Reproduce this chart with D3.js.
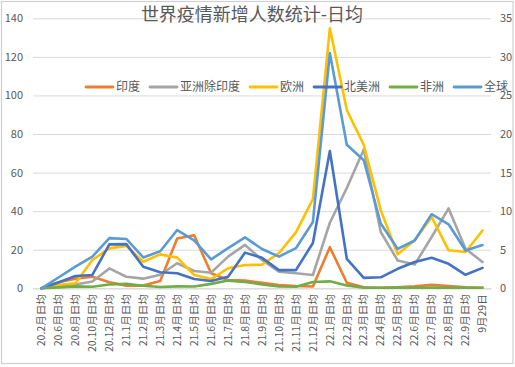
<!DOCTYPE html>
<html>
<head>
<meta charset="utf-8">
<script src="https://cdn.jsdelivr.net/npm/d3@7/dist/d3.min.js"></script>
<style>
  html, body { margin: 0; padding: 0; background: #fff; }
  svg { display: block; font-family: "Noto Sans CJK SC", "Noto Sans", sans-serif; }
</style>
</head>
<body>
<div id="chart"></div>
<script>
// 类目（月份）
var categories = ['20.2月日均', '20.6月日均', '20.8月日均', '20.10月日均', '20.12月日均', '21.1月日均',
	'21.2月日均', '21.3月日均', '21.4月日均', '21.5月日均', '21.6月日均', '21.7月日均', '21.8月日均',
	'21.9月日均', '21.10月日均', '21.11月日均', '21.12月日均', '22.1月日均', '22.2月日均', '22.3月日均',
	'22.4月日均', '22.5月日均', '22.6月日均', '22.7月日均', '22.8月日均', '22.9月日均', '9月29日'];

// 主坐标轴系列
var india = [0, 3.1, 5, 6, 3.1, 1.4, 1.4, 3.8, 25.8, 27.5, 7.8, 4.3, 4, 2.9, 1.7, 1.2, 0.9, 21.3, 2.9, 0.5, 0.3, 0.5, 1, 1.8, 1.2, 0.5, 0.3];
var asiaExIndia = [0, 1.5, 2, 3.5, 10.3, 6, 5, 7, 13, 9, 8.1, 16.4, 22.5, 14.7, 8.6, 7.8, 6.9, 34, 52, 72, 29.2, 14.4, 12.3, 26.6, 41.4, 20.5, 13.6];
var europe = [0, 1.7, 2.6, 14.7, 20.7, 22, 13.8, 17.6, 15.9, 6.9, 4.8, 10.4, 12.1, 12.2, 18.3, 29, 46.2, 134.8, 92.4, 74.3, 40.5, 17.6, 24.9, 37, 19.7, 18.8, 30];
var northAmerica = [0, 3, 6.4, 6.9, 22.8, 22.9, 11.2, 8.3, 7.8, 4.8, 3.8, 6, 18.5, 15.8, 9.4, 9.4, 23.5, 71.2, 15.3, 5.4, 5.7, 10.1, 13.6, 15.8, 12.7, 7, 10.6];
var africa = [0, 0.5, 1, 0.8, 2, 2.3, 1.3, 0.7, 1, 0.9, 2.3, 4, 3.3, 2, 0.9, 0.8, 3.3, 3.6, 1.5, 0.3, 0.3, 0.4, 0.3, 0.4, 0.3, 0.3, 0.3];
// 次坐标轴系列
var world = [0, 1.4, 2.8, 4.1, 6.5, 6.4, 4, 4.8, 7.55, 6.2, 3.75, 5.2, 6.6, 5.1, 4.1, 5.2, 8.6, 30.5, 18.6, 16.6, 8.4, 5.1, 6.2, 9.6, 8.3, 4.9, 5.6];

var leftTicks = [0, 20, 40, 60, 80, 100, 120, 140];
var rightTicks = [0, 5, 10, 15, 20, 25, 30, 35];

var series = [
	{ name: '印度', values: india, color: '#ED7D31', axis: 'left' },
	{ name: '亚洲除印度', values: asiaExIndia, color: '#A5A5A5', axis: 'left' },
	{ name: '欧洲', values: europe, color: '#FFC000', axis: 'left' },
	{ name: '北美洲', values: northAmerica, color: '#4472C4', axis: 'left' },
	{ name: '非洲', values: africa, color: '#70AD47', axis: 'left' },
	{ name: '全球', values: world, color: '#5B9BD5', axis: 'right' }
];

var width = 515, height = 367;
var plot = { left: 33, right: 491, top: 18.3, bottom: 288.3 };
var textColor = '#595959';

var svg = d3.select('#chart').append('svg')
	.attr('width', width)
	.attr('height', height);

// 外框
svg.append('rect')
	.attr('x', 1.5).attr('y', 1.5)
	.attr('width', width - 3.5).attr('height', height - 5)
	.attr('fill', '#fff')
	.attr('stroke', '#d0d0d0')
	.attr('stroke-width', 1.2);

var x = d3.scaleBand()
	.domain(categories)
	.range([plot.left, plot.right]);

var y = d3.scaleLinear()
	.domain([0, 140])
	.range([plot.bottom, plot.top]);

var y2 = d3.scaleLinear()
	.domain([0, 35])
	.range([plot.bottom, plot.top]);

// 网格线 + 左轴
var yAxis = d3.axisLeft(y)
	.tickValues(leftTicks)
	.tickSize(-(plot.right - plot.left))
	.tickPadding(10);
var gy = svg.append('g')
	.attr('transform', 'translate(' + plot.left + ',0)')
	.call(yAxis);
gy.select('.domain').remove();
gy.selectAll('.tick line').attr('stroke', '#d9d9d9').attr('stroke-width', 1);
gy.selectAll('.tick text')
	.attr('fill', textColor)
	.style('font-size', '11px')
	.style('font-family', '"Noto Sans CJK SC", sans-serif');

// 右轴
var y2Axis = d3.axisRight(y2)
	.tickValues(rightTicks)
	.tickSize(0)
	.tickPadding(9);
var gy2 = svg.append('g')
	.attr('transform', 'translate(' + plot.right + ',0)')
	.call(y2Axis);
gy2.select('.domain').remove();
gy2.selectAll('.tick text')
	.attr('fill', textColor)
	.style('font-size', '11px')
	.style('font-family', '"Noto Sans CJK SC", sans-serif');

// x 轴标签（竖排）
var xAxis = d3.axisBottom(x).tickSize(0).tickPadding(0);
var gx = svg.append('g')
	.attr('transform', 'translate(0,' + plot.bottom + ')')
	.call(xAxis);
gx.select('.domain').attr('stroke', '#d9d9d9');
gx.selectAll('.tick text')
	.attr('fill', textColor)
	.style('font-size', '10.5px')
	.style('font-family', '"Noto Sans CJK SC", sans-serif')
	.attr('text-anchor', 'end')
	.attr('transform', 'rotate(-90)')
	.attr('x', -6)
	.attr('y', 0)
	.attr('dy', '0.35em');

// 折线
series.forEach(function(s) {
	var scale = s.axis === 'right' ? y2 : y;
	var line = d3.line()
		.x(function(d, i) { return x(categories[i]) + x.bandwidth() / 2; })
		.y(function(d) { return scale(d); });
	svg.append('path')
		.datum(s.values)
		.attr('fill', 'none')
		.attr('stroke', s.color)
		.attr('stroke-width', 2.6)
		.attr('stroke-linejoin', 'round')
		.attr('stroke-linecap', 'round')
		.attr('d', line);
});

// 标题
svg.append('text')
	.attr('x', 252)
	.attr('y', 21)
	.attr('text-anchor', 'middle')
	.attr('fill', textColor)
	.style('font-size', '18px')
	.text('世界疫情新增人数统计-日均');

// 图例
var legend = svg.append('g').attr('transform', 'translate(86,87)');
var lx = 0;
series.forEach(function(s) {
	var item = legend.append('g').attr('transform', 'translate(' + lx + ',0)');
	item.append('line')
		.attr('x1', 0).attr('x2', 27)
		.attr('y1', 0).attr('y2', 0)
		.attr('stroke', s.color)
		.attr('stroke-width', 2.8)
		.attr('stroke-linecap', 'round');
	var t = item.append('text')
		.attr('x', 30)
		.attr('dy', '0.36em')
		.attr('fill', textColor)
		.style('font-size', '12px')
		.text(s.name);
	lx += 30 + t.node().getComputedTextLength() + 10;
});
</script>
</body>
</html>
